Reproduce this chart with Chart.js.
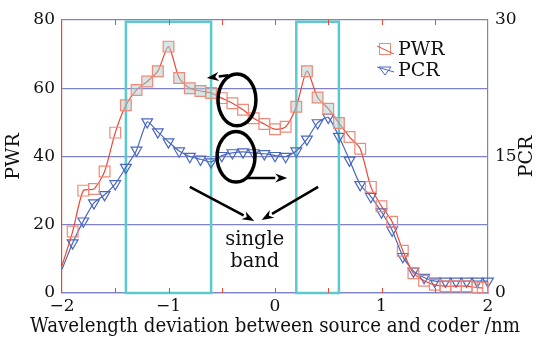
<!DOCTYPE html>
<html><head><meta charset="utf-8">
<script src="https://cdn.jsdelivr.net/npm/chart.js@4.4.0/dist/chart.umd.min.js"></script>
<style>html,body{margin:0;padding:0;background:#fff;}#wrap{width:540px;height:338px;}</style>
</head><body><div id="wrap"><canvas id="c" width="540" height="338"></canvas></div>
<script>
// ---- data (first point of each series is the line start, drawn without marker) ----
const pwrX = [-2,-1.9,-1.8,-1.7,-1.6,-1.5,-1.4,-1.3,-1.2,-1.1,-1.0,-0.9,-0.8,-0.7,-0.6,-0.5,-0.4,-0.3,-0.2,-0.1,0.0,0.1,0.2,0.3,0.4,0.5,0.6,0.7,0.8,0.9,1.0,1.1,1.2,1.3,1.4,1.5,1.6,1.7,1.8,1.9,1.95];
const pwrY = [8,18,30,30.5,35.6,47,55,59.5,62,65,72.2,63,60,59.2,58.6,57.1,55.6,53.7,51.2,49.5,48,48.7,54.6,65,57.3,54,49.8,45.7,42.3,31.1,25.4,20.9,12.4,5.8,3.6,2.4,2,2,2,1.6,1.5];
const pcrX = [-2,-1.9,-1.8,-1.7,-1.6,-1.5,-1.4,-1.3,-1.2,-1.1,-1.0,-0.9,-0.8,-0.7,-0.6,-0.5,-0.4,-0.3,-0.2,-0.1,0.0,0.1,0.2,0.3,0.4,0.5,0.6,0.7,0.8,0.9,1.0,1.1,1.2,1.3,1.4,1.5,1.6,1.7,1.8,1.9,2.0];
const pcrY = [2.6,5.5,7.9,9.9,10.8,12.0,13.8,15.7,18.8,17.7,16.6,15.6,15.0,14.7,14.4,15.1,15.4,15.5,15.4,15.3,15.1,15.0,15.6,16.9,18.7,19.3,17.2,14.6,11.9,10.6,8.9,6.9,4.0,2.4,1.7,1.3,1.3,1.3,1.3,1.3,1.3];
const bands = [[-1.4,-0.6],[0.2,0.6]];
const bandTop = 79.5;
const xTickLabels = [-2,-1,0,1,2];
const pwrTicks = [0,20,40,60,80];
const pcrTicks = [0,15,30];
const seriesNames = ['PWR','PCR'];
const xTitle = 'Wavelength deviation between source and coder /nm';
const annoText = ['single','band'];
// annotation geometry in data coordinates (x, PWR)
const ellipses = [[-0.357,56.6,0.178,7.6],[-0.366,39.9,0.178,7.4]];
const arrows = [[-0.44,63.8,-0.64,63.0],[-0.27,33.7,0.115,33.7],[-0.80,31.1,-0.195,21.1],[0.405,31.1,-0.125,21.4]];
const textPos = [[-0.19,15.6],[-0.19,9.0]];

const RED='#ee4636', SQ='#f08a78', BLUE='#4b67bd', GRID='#7d83c6', CYAN='#5cc9cf';
const FONT='"DejaVu Serif", serif';
const inBand = x => bands.some(b => x >= b[0]-1e-6 && x <= b[1]+1e-6);
const fmt = v => String(v).replace('-','\u2212');

const pwrData = pwrX.map((x,i)=>({x, y:pwrY[i]}));
const pcrData = pcrX.map((x,i)=>({x, y:pcrY[i]}));

const decor = {
  id:'decor',
  beforeDatasetsDraw(chart){
    const {ctx, scales:{x,y}} = chart;
    ctx.save();
    ctx.strokeStyle = CYAN; ctx.lineWidth = 2.5;
    bands.forEach(b=>{
      const x0=x.getPixelForValue(b[0]), x1=x.getPixelForValue(b[1]);
      const y0=y.getPixelForValue(bandTop), y1=y.getPixelForValue(0);
      ctx.strokeRect(x0,y0,x1-x0,y1-y0);
    });
    ctx.restore();
  },
  afterDraw(chart){
    const {ctx, chartArea:a, scales:{x,y}} = chart;
    ctx.save();
    // red minor tick marks top & bottom
    ctx.strokeStyle = RED; ctx.lineWidth = 1;
    for (let v=-1.5; v<=1.51; v+=0.5){
      const px = Math.round(x.getPixelForValue(v))+0.5;
      ctx.beginPath(); ctx.moveTo(px,a.top); ctx.lineTo(px,a.top+5);
      ctx.moveTo(px,a.bottom); ctx.lineTo(px,a.bottom-5); ctx.stroke();
    }
    // ellipses
    ctx.strokeStyle='#000'; ctx.lineWidth=3.5;
    ellipses.forEach(e=>{
      const cx=x.getPixelForValue(e[0]), cy=y.getPixelForValue(e[1]);
      const rx=x.getPixelForValue(e[0]+e[2])-cx, ry=cy-y.getPixelForValue(e[1]+e[3]);
      ctx.beginPath(); ctx.ellipse(cx,cy,rx,ry,0,0,Math.PI*2); ctx.stroke();
    });
    // arrows
    ctx.lineWidth=2.5; ctx.fillStyle='#000';
    arrows.forEach(r=>{
      const x0=x.getPixelForValue(r[0]), y0=y.getPixelForValue(r[1]);
      const x1=x.getPixelForValue(r[2]), y1=y.getPixelForValue(r[3]);
      const ang=Math.atan2(y1-y0,x1-x0), L=12, W=4.5;
      const bx=x1-L*Math.cos(ang), by=y1-L*Math.sin(ang);
      ctx.beginPath(); ctx.moveTo(x0,y0); ctx.lineTo(bx,by); ctx.stroke();
      ctx.beginPath(); ctx.moveTo(x1,y1);
      ctx.lineTo(bx+W*Math.sin(ang), by-W*Math.cos(ang));
      ctx.lineTo(bx+0.3*L*Math.cos(ang), by+0.3*L*Math.sin(ang));
      ctx.lineTo(bx-W*Math.sin(ang), by+W*Math.cos(ang));
      ctx.closePath(); ctx.fill();
    });
    // text
    ctx.fillStyle='#111'; ctx.font='19.5px '+FONT; ctx.textAlign='center'; ctx.textBaseline='middle';
    annoText.forEach((t,i)=>ctx.fillText(t, x.getPixelForValue(textPos[i][0]), y.getPixelForValue(textPos[i][1])));
    // legend
    const lx=a.right-103, ly1=a.top+29, ly2=a.top+50;
    ctx.lineWidth=1;
    ctx.strokeStyle=SQ; ctx.strokeRect(lx-5.5,ly1-5.5,11,11);
    ctx.strokeStyle=RED; ctx.beginPath(); ctx.moveTo(lx-8,ly1-3); ctx.lineTo(lx+9,ly1+5); ctx.stroke();
    ctx.strokeStyle=BLUE; ctx.beginPath();
    ctx.moveTo(lx-6,ly2-3); ctx.lineTo(lx+6,ly2-3); ctx.lineTo(lx,ly2+5); ctx.closePath(); ctx.stroke();
    ctx.beginPath(); ctx.moveTo(lx-8,ly2-3); ctx.lineTo(lx+9,ly2+2); ctx.stroke();
    ctx.fillStyle='#111'; ctx.font='19px '+FONT; ctx.textAlign='left';
    ctx.fillText(seriesNames[0], lx+13, ly1+1);
    ctx.fillText(seriesNames[1], lx+13, ly2+1);
    // right axis title, reading bottom to top
    ctx.save();
    ctx.translate(527,(a.top+a.bottom)/2); ctx.rotate(-Math.PI/2);
    ctx.textAlign='center'; ctx.font='19px '+FONT;
    ctx.fillText(seriesNames[1],0,0);
    ctx.restore();
    // x axis title (wider than plot area)
    ctx.textAlign='center';
    let fs = 20; ctx.font = fs+'px '+FONT;
    const w = ctx.measureText(xTitle).width;
    if (w < 490) { fs = Math.min(22, fs*490/w); ctx.font = fs+'px '+FONT; }
    ctx.fillText(xTitle, (a.left+a.right)/2, 327, 490);
    ctx.restore();
  }
};

new Chart(document.getElementById('c'), {
  type:'line',
  data:{ datasets:[
    { label:seriesNames[0], data:pwrData, yAxisID:'y', borderColor:RED, borderWidth:1.2, tension:0.25,
      pointStyle:'rect', pointRadius:c=>c.dataIndex===0?0:7.6, pointBorderColor:SQ, pointBorderWidth:1.2,
      pointBackgroundColor:c=>inBand(c.raw.x)?'rgba(170,205,205,0.5)':'rgba(0,0,0,0)', clip:false },
    { label:seriesNames[1], data:pcrData, yAxisID:'y1', borderColor:BLUE, borderWidth:1.2, tension:0.2,
      pointStyle:'triangle', pointRotation:180, pointRadius:c=>c.dataIndex===0?0:6.2, pointBorderColor:BLUE, pointBorderWidth:1.2,
      pointBackgroundColor:'rgba(0,0,0,0)', clip:false }
  ]},
  options:{
    responsive:false, animation:false, events:[],
    layout:{padding:{top:20,right:0,left:0,bottom:0}},
    plugins:{legend:{display:false}, tooltip:{enabled:false}},
    scales:{
      x:{ type:'linear', min:-2, max:2,
        afterBuildTicks:s=>{ s.ticks = xTickLabels.map(v=>({value:v})); },
        afterFit:s=>{ s.height=45; },
        grid:{display:true, drawOnChartArea:false, drawTicks:false},
        border:{color:GRID, width:1.2},
        ticks:{padding:3, color:'#111', font:{family:FONT,size:17}, callback:v=>fmt(v), maxRotation:0},
        title:{display:false}
      },
      y:{ position:'left', min:0, max:80,
        afterBuildTicks:s=>{ s.ticks = pwrTicks.map(v=>({value:v})); },
        afterFit:s=>{ s.width=62; },
        grid:{color:GRID, lineWidth:1.2, drawTicks:false},
        border:{color:RED, width:1.2},
        ticks:{padding:7, color:'#111', font:{family:FONT,size:17}},
        title:{display:true, text:seriesNames[0], color:'#111', font:{family:FONT,size:19}, padding:{top:3,bottom:0}}
      },
      y1:{ position:'right', min:0, max:30,
        afterBuildTicks:s=>{ s.ticks = pcrTicks.map(v=>({value:v})); },
        afterFit:s=>{ s.width=52; },
        grid:{drawOnChartArea:false, drawTicks:false},
        border:{color:GRID, width:1.2},
        ticks:{padding:7, color:'#111', font:{family:FONT,size:17}}
      }
    }
  },
  plugins:[decor]
});
</script></body></html>
